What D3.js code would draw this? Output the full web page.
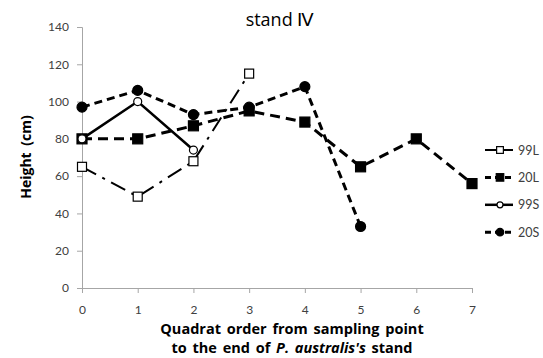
<!DOCTYPE html>
<html>
<head>
<meta charset="utf-8">
<script src="https://cdn.jsdelivr.net/npm/d3@7"></script>
<style>
  body { margin: 0; background: #fff; }
  svg { display: block; font-family: "Open Sans", Lato, sans-serif; }
</style>
</head>
<body>
<svg id="chart" width="543" height="358"></svg>
<script>
// Quadrat order (x) and plant height in cm for each series
const quadrats = [0, 1, 2, 3, 4, 5, 6, 7];
const yTicks = [0, 20, 40, 60, 80, 100, 120, 140];
const h99L = [65, 49, 68, 115];
const h20L = [80, 80, 87, 95, 89, 65, 80, 56];
const h99S = [80, 100, 74];
const h20S = [97, 106, 93, 97, 108, 33];
const seriesNames = ["99L", "20L", "99S", "20S"];

const series = [
  { name: seriesNames[0], values: h99L, dash: "16,7,3,7", width: 2, marker: "square", fill: "#fff", size: 9 },
  { name: seriesNames[1], values: h20L, dash: "10,6", width: 3, marker: "square", fill: "#000", size: 10 },
  { name: seriesNames[2], values: h99S, dash: null, width: 2.5, marker: "circle", fill: "#fff", size: 8 },
  { name: seriesNames[3], values: h20S, dash: "8,5", width: 3, marker: "circle", fill: "#000", size: 10 }
];

const svg = d3.select("#chart");
const x = d3.scaleLinear().domain([0, 7]).range([82, 472]);
const y = d3.scaleLinear().domain([0, 140]).range([288, 27]);

// axes
const yAxis = svg.append("g").attr("transform", "translate(82,0)")
  .call(d3.axisLeft(y).tickValues(yTicks).tickSize(5).tickPadding(8));
const xAxis = svg.append("g").attr("transform", "translate(0,288)")
  .call(d3.axisBottom(x).tickValues(quadrats).tickFormat(d3.format("d")).tickSize(5).tickPadding(12));
[yAxis, xAxis].forEach(g => {
  g.select(".domain").attr("stroke", "#a6a6a6");
  g.selectAll(".tick line").attr("stroke", "#a6a6a6");
  g.selectAll(".tick text").attr("fill", "#404040")
    .style("font-size", "12px").style("font-family", "Lato, sans-serif");
});

// lines
const line = d3.line().x((d, i) => x(quadrats[i])).y(d => y(d));
function drawMarker(g, s, cx, cy, k) {
  const sz = s.size * k;
  if (s.marker === "square") {
    g.append("rect").attr("x", cx - sz / 2).attr("y", cy - sz / 2)
      .attr("width", sz).attr("height", sz)
      .attr("fill", s.fill).attr("stroke", "#000").attr("stroke-width", 1.2);
  } else {
    g.append("circle").attr("cx", cx).attr("cy", cy).attr("r", sz / 2)
      .attr("fill", s.fill).attr("stroke", "#000").attr("stroke-width", 1.2);
  }
}

series.forEach(s => {
  svg.append("path").datum(s.values)
    .attr("d", line).attr("fill", "none").attr("stroke", "#000")
    .attr("stroke-width", s.width)
    .attr("stroke-dasharray", s.dash);
});
series.forEach(s => {
  const g = svg.append("g");
  s.values.forEach((v, i) => drawMarker(g, s, x(quadrats[i]), y(v), 1));
});

// legend
const legend = svg.append("g");
series.forEach((s, i) => {
  const ly = 150 + i * 27.4;
  legend.append("line").attr("x1", 485).attr("x2", 513).attr("y1", ly).attr("y2", ly)
    .attr("stroke", "#000").attr("stroke-width", s.width)
    .attr("stroke-dasharray", s.dash ? (s.name === "99L" ? null : "6,4") : null);
  drawMarker(legend, s, 500, ly, 0.75);
  legend.append("text").attr("x", 518).attr("y", ly + 4.5)
    .attr("fill", "#404040").style("font-size", "12.5px")
    .style("font-family", "Lato, sans-serif").text(s.name);
});

// titles
svg.append("text").attr("x", 280).attr("y", 26).attr("text-anchor", "middle")
  .style("font-size", "18px").attr("fill", "#000").text("stand \u2163");

svg.append("text").attr("transform", "translate(31,157) rotate(-90)")
  .attr("text-anchor", "middle").style("font-size", "14px").style("font-weight", "bold")
  .style("word-spacing", "3px").text("Height (cm)");

svg.append("text").attr("x", 292).attr("y", 334).attr("text-anchor", "middle")
  .style("font-size", "14.5px").style("font-weight", "bold").style("word-spacing", "2px")
  .text("Quadrat order from sampling point");
const t2 = svg.append("text").attr("x", 292).attr("y", 353).attr("text-anchor", "middle")
  .style("font-size", "14.5px").style("font-weight", "bold").style("word-spacing", "2px");
t2.append("tspan").text("to the end of ");
t2.append("tspan").style("font-style", "italic").text("P. australis's");
t2.append("tspan").text(" stand");
</script>
</body>
</html>
